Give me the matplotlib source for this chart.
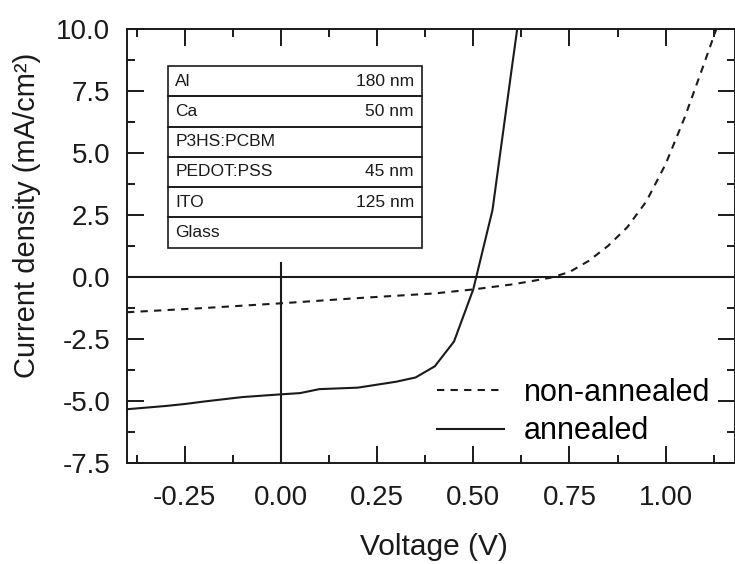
import matplotlib
matplotlib.use("Agg")
import matplotlib.pyplot as plt
from matplotlib.patches import Rectangle
from matplotlib.ticker import MultipleLocator, FormatStrFormatter

plt.rcParams['font.family'] = ['Liberation Sans', 'DejaVu Sans']
plt.rcParams['axes.unicode_minus'] = False

# J-V data
v_annealed = [-0.4, -0.3, -0.25, -0.2, -0.1, 0.0, 0.05, 0.1, 0.2, 0.3, 0.35, 0.4, 0.45, 0.5, 0.55, 0.6, 0.625]
j_annealed = [-5.33, -5.2, -5.12, -5.02, -4.84, -4.73, -4.68, -4.52, -4.46, -4.22, -4.05, -3.6, -2.6, -0.5, 2.7, 8.4, 11.2]

v_nonannealed = [-0.4, -0.2, 0.0, 0.2, 0.4, 0.5, 0.6, 0.65, 0.7, 0.75, 0.8, 0.85, 0.9, 0.95, 1.0, 1.05, 1.1, 1.15]
j_nonannealed = [-1.42, -1.25, -1.06, -0.85, -0.66, -0.5, -0.3, -0.17, -0.03, 0.2, 0.65, 1.25, 2.0, 3.05, 4.55, 6.45, 8.6, 10.8]

# device stack (top to bottom)
layers = ['Al', 'Ca', 'P3HS:PCBM', 'PEDOT:PSS', 'ITO', 'Glass']
thickness = ['180 nm', '50 nm', '', '45 nm', '125 nm', '']

ink = '#1a1a1a'

fig = plt.figure(figsize=(7.35, 5.64), dpi=100)
ax = fig.add_axes([0.1728, 0.179, 0.827, 0.7696])

ax.plot(v_nonannealed, j_nonannealed, color=ink, lw=1.5, ls=(0, (3.5, 3)), label='non-annealed')
ax.plot(v_annealed, j_annealed, color=ink, lw=1.5, label='annealed')

ax.axhline(0, color=ink, lw=1.5)
ax.plot([0, 0], [-7.5, 0.56], color=ink, lw=1.5)

ax.set_xlim(-0.4, 1.18)
ax.set_ylim(-7.5, 10)
ax.xaxis.set_major_locator(MultipleLocator(0.25))
ax.xaxis.set_minor_locator(MultipleLocator(0.125))
ax.yaxis.set_major_locator(MultipleLocator(2.5))
ax.yaxis.set_minor_locator(MultipleLocator(1.25))
ax.xaxis.set_major_formatter(FormatStrFormatter('%.2f'))
ax.yaxis.set_major_formatter(FormatStrFormatter('%.1f'))

ax.tick_params(which='both', direction='in', top=True, right=True, width=1.4, colors=ink, labelsize=20)
ax.tick_params(which='major', length=12)
ax.tick_params(which='minor', length=6)
ax.tick_params(axis='x', pad=16)
ax.tick_params(axis='y', pad=12)
for s in ax.spines.values():
    s.set_linewidth(1.4)
    s.set_color(ink)

ax.set_xlabel('Voltage (V)', fontsize=21.5, labelpad=16, color=ink, x=0.505)
ax.set_ylabel('Current density (mA/cm²)', fontsize=21, labelpad=11, color=ink, y=0.571)

leg = ax.legend(loc='upper left', bbox_to_anchor=(0.51, 0.196), frameon=False, fontsize=22,
                handlelength=2.2, handletextpad=0.65, labelspacing=0.27,
                borderpad=0, borderaxespad=0)

# layer stack box
x0, x1 = 0.0674, 0.485
top = 0.9147
rh = 0.0697
for i, (name, th) in enumerate(zip(layers, thickness)):
    y = top - (i + 1) * rh
    ax.add_patch(Rectangle((x0, y), x1 - x0, rh, transform=ax.transAxes,
                           fill=False, lw=1.2, ec=ink, zorder=5))
    ax.text(x0 + 0.012, y + rh / 2, name, transform=ax.transAxes, va='center', ha='left',
            fontsize=12.5, color=ink)
    if th:
        ax.text(x1 - 0.013, y + rh / 2, th, transform=ax.transAxes, va='center', ha='right',
                fontsize=12.5, color=ink)

fig.savefig('out.png', dpi=100)
